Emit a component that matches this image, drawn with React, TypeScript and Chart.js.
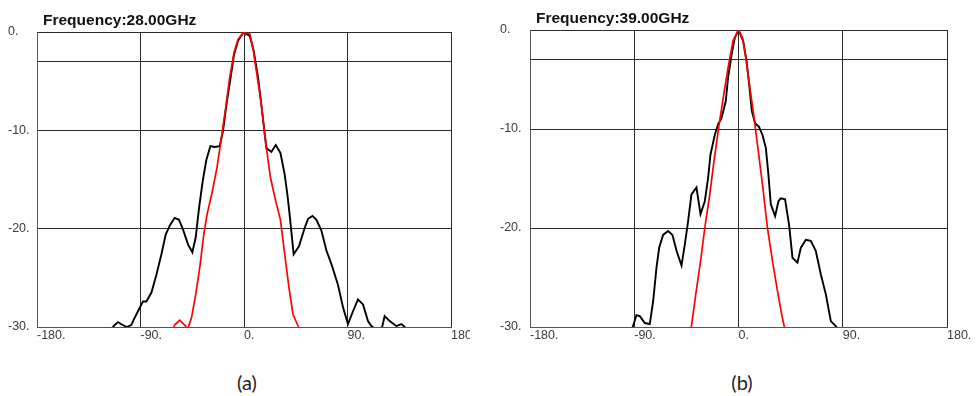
import React, { useEffect, useRef } from "react";
import { Chart, registerables } from "chart.js";

Chart.register(...registerables);

// ---------- data ----------
const X_TICKS = [-180, -90, 0, 90, 180];
const Y_GRID = [-30, -20, -10, -3, 0];
const Y_LABELED = [-30, -20, -10, 0];

const TITLE_A = "Frequency:28.00GHz";
const TITLE_B = "Frequency:39.00GHz";
const CAPTION_A = "(a)";
const CAPTION_B = "(b)";

// (a) 28 GHz – black (full pattern)
const A_BLACK_DEG = [-117, -112.4, -109.5, -107, -102, -98, -96.5, -92.2, -87.8, -84.9, -80.5, -76.2, -71.8, -68.1, -64.6, -60.3, -56.5, -53, -48.7, -44.9, -42, -39.1, -35.7, -32.7, -29.2, -25.5, -21.1, -18.3, -15.3, -11.6, -8.7, -5.2, -0.9, 0, 0.6, 5, 8.4, 12.2, 15.1, 18, 19.5, 23.8, 27.6, 31.7, 35.4, 37.7, 39.7, 43.2, 47.8, 52.8, 55.7, 59.5, 63, 67.3, 71.6, 76, 81.7, 86.1, 90.4, 94.8, 99.1, 103.5, 107.8, 110.8, 115.2, 119.5, 122.3, 126.7, 132.5, 136.9, 139.7, 142.6];
const A_BLACK_DB = [-30.4, -29.8, -29.5, -29.7, -30.0, -29.8, -29.4, -28.4, -27.4, -27.4, -26.5, -24.7, -22.6, -20.6, -19.7, -18.9, -19.1, -20.1, -21.6, -22.4, -20.9, -17.9, -15.0, -13.0, -11.6, -11.7, -11.6, -10.1, -7.4, -4.6, -2.3, -0.9, -0.1, 0, -0.1, -0.4, -1.9, -4.6, -7.4, -10.4, -11.8, -12.2, -11.5, -12.3, -14.5, -16.5, -18.6, -22.6, -21.8, -19.9, -19.0, -18.7, -19.1, -20.2, -22.2, -23.6, -25.7, -28.0, -29.7, -28.4, -27.2, -27.7, -29.4, -29.9, -30.3, -30.3, -28.9, -29.4, -29.9, -29.7, -30.0, -30.3];

// (a) 28 GHz – red
const A_RED_DEG = [-62, -60.3, -55.9, -51.6, -49, -45.7, -42, -38.5, -35, -32.2, -27.5, -23.5, -19.7, -15.9, -12.4, -8.7, -5.2, -0.9, 0, 0.6, 5, 7.8, 10.8, 14.3, 17.1, 19.5, 23, 27.6, 31.7, 35.4, 39.1, 42.6, 47, 49];
const A_RED_DB = [-30.4, -29.8, -29.3, -29.8, -30.2, -29.1, -26.7, -24.0, -20.6, -18.6, -16.2, -13.8, -10.8, -7.7, -4.6, -2.1, -0.75, -0.1, 0, -0.1, -0.2, -1.6, -4.0, -6.7, -9.4, -11.8, -14.8, -17.2, -19.1, -22.6, -26.0, -28.7, -29.9, -30.4];

// (b) 39 GHz – black
const B_BLACK_DEG = [-93, -91, -88.1, -85.2, -80.9, -76.6, -73.7, -70.8, -68.5, -65.1, -60.8, -57, -53.5, -49.2, -46.4, -43.5, -40.6, -36.3, -32.8, -29.1, -26.2, -24.2, -20.5, -17.6, -14.7, -11, -9, -6, -3.2, 0, 4, 6.9, 9.2, 11.5, 14.3, 17.8, 20.7, 23.6, 25.6, 27.9, 31.6, 34.5, 36.5, 40.2, 43.7, 46.6, 50.9, 53.8, 58.1, 62.4, 66.7, 71.1, 75.4, 79.7, 84, 86.5];
const B_BLACK_DB = [-30.4, -29.9, -28.8, -28.9, -29.6, -29.7, -27.4, -24.0, -22.0, -20.7, -20.3, -20.7, -22.3, -23.8, -21.7, -19.3, -16.6, -15.9, -18.6, -17.3, -14.9, -12.6, -10.6, -9.5, -8.9, -7.2, -4.8, -2.5, -0.8, 0, -1.1, -3.1, -5.5, -8.2, -9.4, -9.8, -10.6, -11.9, -14.3, -17.6, -18.8, -17.3, -17.0, -17.1, -19.7, -23.0, -23.5, -22.0, -21.2, -21.3, -22.3, -24.7, -26.7, -29.4, -29.9, -30.4];

// (b) 39 GHz – red
const B_RED_DEG = [-41.5, -40.6, -36.9, -32.8, -29.1, -24.8, -21.1, -16.7, -12.7, -9, -4.7, 0, 3.5, 6.3, 9.8, 13.5, 16.4, 20.7, 25, 29.4, 33.7, 37.4, 39.4, 40.5];
const B_RED_DB = [-30.4, -29.9, -26.7, -23.4, -20.0, -16.6, -13.2, -9.5, -6.5, -3.8, -1.1, 0, -0.8, -2.8, -5.8, -8.9, -11.6, -15.6, -20.0, -23.4, -26.4, -28.8, -29.9, -30.4];

// ---------- chart panel ----------
type PanelProps = {
  title: string;
  blackDeg: number[];
  blackDb: number[];
  redDeg: number[];
  redDb: number[];
  left: number;
  width: number;
  padLeft: number;
  yAxisWidth: number;
  padTop: number;
  padRight: number;
};

const HEIGHT = 350;
const X_AXIS_H = 23;
const TICK_FONT = { family: "'Liberation Sans', Arial, sans-serif", size: 12.5 };

function toPoints(xs: number[], ys: number[]) {
  return xs.map((x, i) => ({ x, y: ys[i] }));
}

function Panel(props: PanelProps) {
  const ref = useRef<HTMLCanvasElement | null>(null);

  useEffect(() => {
    if (!ref.current) return;
    const title = props.title;
    const titlePlugin = {
      id: "panelTitle",
      afterDraw(chart: any) {
        const { ctx, chartArea } = chart;
        ctx.save();
        ctx.font = "bold 15.5px 'Liberation Sans', Arial, sans-serif";
        ctx.fillStyle = "#111";
        ctx.textAlign = "left";
        ctx.textBaseline = "alphabetic";
        ctx.fillText(title, chartArea.left + 6, chartArea.top - 7);
        ctx.restore();
      },
    };

    const chart = new Chart(ref.current, {
      type: "line",
      data: {
        datasets: [
          {
            data: toPoints(props.redDeg, props.redDb),
            borderColor: "#ff0000",
            borderWidth: 1.7,
            pointRadius: 0,
            tension: 0,
            fill: false,
          },
          {
            data: toPoints(props.blackDeg, props.blackDb),
            borderColor: "#000000",
            borderWidth: 1.9,
            pointRadius: 0,
            tension: 0,
            fill: false,
          },
        ],
      },
      options: {
        animation: false,
        responsive: false,
        maintainAspectRatio: false,
        parsing: false as any,
        layout: {
          padding: { left: props.padLeft, top: props.padTop, right: props.padRight, bottom: 0 },
        },
        plugins: {
          legend: { display: false },
          tooltip: { enabled: false },
          title: { display: false },
        },
        scales: {
          x: {
            type: "linear",
            min: -180,
            max: 180,
            afterBuildTicks: (s: any) => {
              s.ticks = X_TICKS.map((v) => ({ value: v }));
            },
            afterFit: (s: any) => {
              s.height = X_AXIS_H;
              s.paddingLeft = 0;
              s.paddingRight = 0;
            },
            ticks: {
              align: "start",
              autoSkip: false,
              maxRotation: 0,
              padding: 1,
              color: "#3a3a3a",
              font: TICK_FONT,
              callback: (v: any) => `${v}.`,
            },
            grid: { color: "#2a2a2a", lineWidth: 1, drawTicks: false },
            border: { display: true, color: "#555", width: 1 },
          },
          y: {
            type: "linear",
            min: -30,
            max: 0,
            afterBuildTicks: (s: any) => {
              s.ticks = Y_GRID.map((v) => ({ value: v }));
            },
            afterFit: (s: any) => {
              s.width = props.yAxisWidth;
              s.paddingTop = 0;
              s.paddingBottom = 0;
            },
            ticks: {
              crossAlign: "far",
              autoSkip: false,
              padding: 0,
              color: "#3a3a3a",
              font: TICK_FONT,
              callback: (v: any) => (Y_LABELED.includes(Number(v)) ? `${v}.` : ""),
            },
            grid: { color: "#2a2a2a", lineWidth: 1, drawTicks: false },
            border: { display: true, color: "#555", width: 1 },
          },
        },
      },
      plugins: [titlePlugin],
    } as any);

    return () => chart.destroy();
  }, []);

  return (
    <canvas
      ref={ref}
      width={props.width}
      height={HEIGHT}
      style={{ position: "absolute", left: props.left, top: 0, width: props.width, height: HEIGHT }}
    />
  );
}

const captionStyle: React.CSSProperties = {
  position: "absolute",
  top: 369,
  width: 60,
  textAlign: "center",
  fontFamily: "Lato, 'Open Sans', sans-serif",
  fontSize: 20,
  color: "#222",
  lineHeight: "26px",
};

export default function App() {
  useEffect(() => {
    document.body.style.margin = "0";
  }, []);
  return (
    <div style={{ position: "fixed", left: 0, top: 0, width: 978, height: 396, background: "#fff", overflow: "hidden" }}>
      <Panel
        title={TITLE_A}
        blackDeg={A_BLACK_DEG}
        blackDb={A_BLACK_DB}
        redDeg={A_RED_DEG}
        redDb={A_RED_DB}
        left={0}
        width={470}
        padLeft={8}
        yAxisWidth={29}
        padTop={32}
        padRight={19}
      />
      <Panel
        title={TITLE_B}
        blackDeg={B_BLACK_DEG}
        blackDb={B_BLACK_DB}
        redDeg={B_RED_DEG}
        redDb={B_RED_DB}
        left={490}
        width={488}
        padLeft={10}
        yAxisWidth={30}
        padTop={30}
        padRight={31}
      />
      <div style={{ ...captionStyle, left: 247 - 30 }}>{CAPTION_A}</div>
      <div style={{ ...captionStyle, left: 742 - 30 }}>{CAPTION_B}</div>
    </div>
  );
}
